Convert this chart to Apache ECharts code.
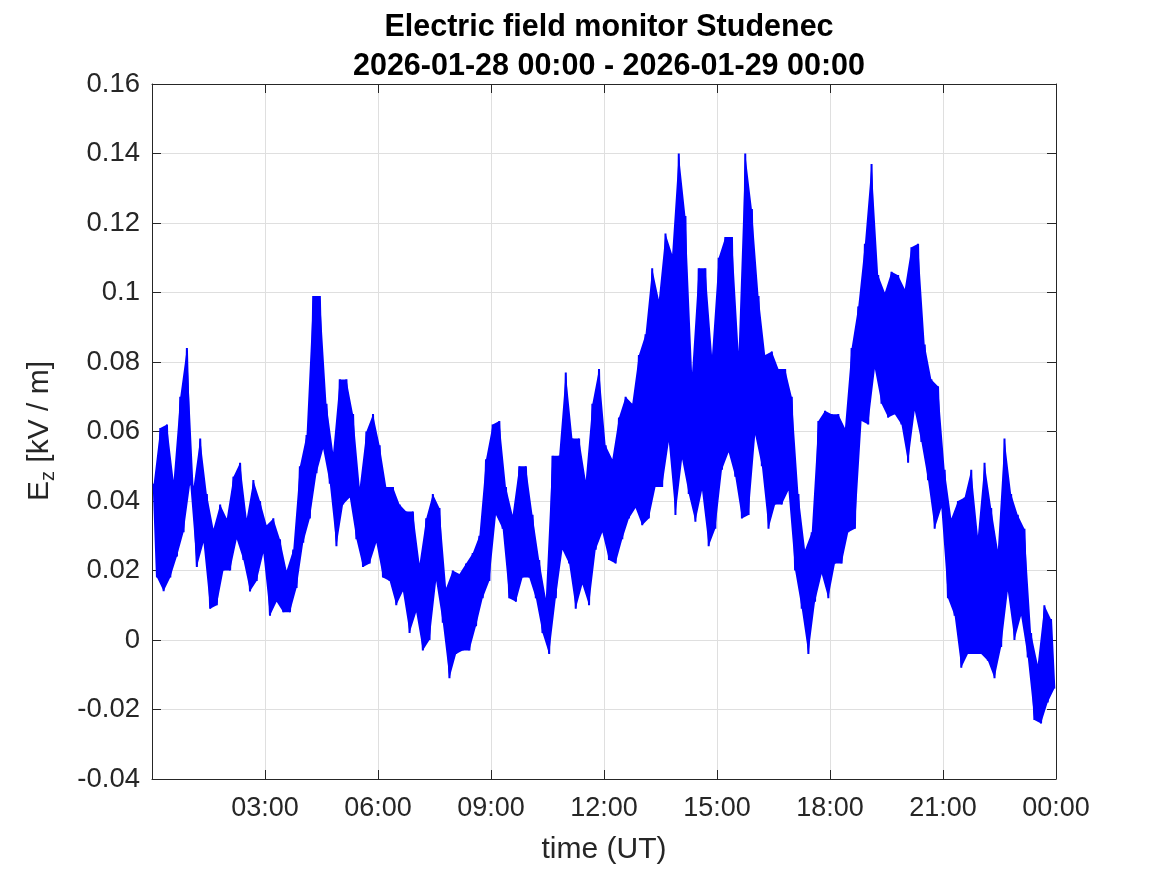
<!DOCTYPE html>
<html>
<head>
<meta charset="utf-8">
<script src="https://cdn.jsdelivr.net/npm/echarts@6/dist/echarts.min.js"></script>
<style>
  html, body { margin: 0; padding: 0; background: #fff; }
  #chart { width: 1167px; height: 875px; }
</style>
</head>
<body>
<div id="chart"></div>
<script>
// upper / lower envelope of Ez [kV/m] in equal time windows over the day
const hiVals = [
  0.045, 0.061, 0.062, 0.046, 0.070, 0.084, 0.044, 0.058, 0.042, 0.032, 0.039, 0.035, 0.047, 0.051, 0.035, 0.046, 0.040, 0.033, 0.035, 0.029, 0.020, 0.026, 0.050,
  0.059, 0.099, 0.099, 0.068, 0.054, 0.075, 0.075, 0.065, 0.044, 0.060, 0.065, 0.056, 0.044, 0.044, 0.039, 0.037, 0.037, 0.022, 0.035, 0.042, 0.038, 0.015,
  0.020, 0.019, 0.022, 0.025, 0.030, 0.052, 0.062, 0.063, 0.044, 0.036, 0.050, 0.050, 0.036, 0.023, 0.012, 0.053, 0.053, 0.077, 0.058, 0.058, 0.046, 0.068, 0.078,
  0.056, 0.052, 0.064, 0.070, 0.068, 0.082, 0.088, 0.107, 0.098, 0.117, 0.111, 0.140, 0.122, 0.077, 0.107, 0.107, 0.082, 0.110, 0.116, 0.116, 0.083, 0.140,
  0.124, 0.099, 0.082, 0.083, 0.078, 0.078, 0.070, 0.042, 0.026, 0.031, 0.063, 0.066, 0.065, 0.065, 0.061, 0.084, 0.096, 0.114, 0.137, 0.105, 0.100, 0.106, 0.105,
  0.101, 0.113, 0.114, 0.085, 0.075, 0.073, 0.049, 0.035, 0.040, 0.041, 0.049, 0.030, 0.051, 0.038, 0.026, 0.058, 0.042, 0.036, 0.032, 0.002, -0.007, 0.010, 0.006
];
const loVals = [
  0.018, 0.014, 0.018, 0.024, 0.031, 0.045, 0.021, 0.028, 0.009, 0.010, 0.020, 0.020, 0.029, 0.023, 0.014, 0.017, 0.025, 0.007, 0.011, 0.008, 0.008, 0.015, 0.028,
  0.035, 0.048, 0.055, 0.045, 0.027, 0.039, 0.041, 0.029, 0.021, 0.022, 0.028, 0.018, 0.017, 0.010, 0.014, 0.002, 0.008, -0.003, 0.000, 0.017, 0.005, -0.011,
  -0.004, -0.003, -0.003, 0.004, 0.012, 0.017, 0.036, 0.032, 0.012, 0.011, 0.018, 0.018, 0.012, 0.002, -0.004, 0.012, 0.026, 0.022, 0.009, 0.016, 0.010, 0.026, 0.031,
  0.023, 0.022, 0.029, 0.035, 0.038, 0.033, 0.035, 0.044, 0.044, 0.057, 0.036, 0.052, 0.042, 0.034, 0.043, 0.027, 0.032, 0.049, 0.054, 0.047, 0.035, 0.036,
  0.059, 0.050, 0.032, 0.039, 0.039, 0.043, 0.020, 0.009, -0.004, 0.011, 0.019, 0.012, 0.022, 0.022, 0.031, 0.032, 0.063, 0.062, 0.078, 0.068, 0.064, 0.065, 0.062,
  0.051, 0.066, 0.057, 0.046, 0.032, 0.038, 0.012, 0.007, -0.008, -0.004, -0.004, -0.004, -0.006, -0.011, -0.002, 0.014, 0.000, 0.007, -0.005, -0.023, -0.024, -0.018, -0.014
];
const xTicks = [0, 3, 6, 9, 12, 15, 18, 21, 24]; // hours UT
const yTicks = [-0.04, -0.02, 0, 0.02, 0.04, 0.06, 0.08, 0.1, 0.12, 0.14, 0.16];

const win = 24 / hiVals.length; // hours per window
const upper = hiVals.map((v, k) => [(k + 0.25) * win, v]);
const lower = loVals.map((v, k) => [(k + 0.75) * win, v]);
const zigzag = [];
upper.forEach((p, k) => {
  zigzag.push(p);
  zigzag.push(lower[k]);
});

const axisColor = "#262626";
const blue = "#0000ff";
const font = "'Liberation Sans', Arial, sans-serif";

function xFmt(v) {
  if (v === 0) return "";
  const h = v % 24;
  return (h < 10 ? "0" : "") + h + ":00";
}
function yFmt(v) {
  return String(parseFloat(v.toFixed(2)));
}

// filled envelope between upper and lower points
function renderBand(params, api) {
  const pts = upper.map((p) => api.coord(p)).concat(lower.slice().reverse().map((p) => api.coord(p)));
  return {
    type: "polygon",
    shape: { points: pts },
    style: { fill: blue, stroke: null },
    silent: true,
  };
}

const baseX = {
  type: "value",
  min: xTicks[0],
  max: xTicks[xTicks.length - 1],
  interval: 3,
  axisLine: { onZero: false, lineStyle: { color: axisColor, width: 1 } },
  axisTick: { inside: true, length: 9, lineStyle: { color: axisColor } },
};
const baseY = {
  type: "value",
  min: yTicks[0],
  max: yTicks[yTicks.length - 1],
  interval: 0.02,
  axisLine: { show: true, onZero: false, lineStyle: { color: axisColor, width: 1 } },
  axisTick: { show: true, inside: true, length: 9, lineStyle: { color: axisColor } },
};

const chart = echarts.init(document.getElementById("chart"));
chart.setOption({
  animation: false,
  backgroundColor: "#fff",
  title: {
    text: "Electric field monitor Studenec\n2026-01-28 00:00 - 2026-01-29 00:00",
    left: 604,
    top: 3,
    textAlign: "center",
    textStyle: {
      fontFamily: font,
      fontSize: 30.5,
      fontWeight: "bold",
      lineHeight: 39,
      color: "#000",
    },
  },
  grid: { left: 152, top: 84, width: 904, height: 695, containLabel: false },
  xAxis: [
    Object.assign({}, baseX, {
      position: "bottom",
      axisLabel: { formatter: xFmt, color: axisColor, fontFamily: font, fontSize: 27, margin: 16 },
      splitLine: { show: true, lineStyle: { color: "#dfdfdf", width: 1 } },
    }),
    Object.assign({}, baseX, {
      position: "top",
      axisLabel: { show: false },
      splitLine: { show: false },
    }),
  ],
  yAxis: [
    Object.assign({}, baseY, {
      position: "left",
      axisLabel: { formatter: yFmt, color: axisColor, fontFamily: font, fontSize: 27.5, margin: 12 },
      splitLine: { show: true, lineStyle: { color: "#dfdfdf", width: 1 } },
    }),
    Object.assign({}, baseY, {
      position: "right",
      axisLabel: { show: false },
      splitLine: { show: false },
    }),
  ],
  graphic: [
    {
      type: "text",
      x: 40,
      y: 431,
      rotation: Math.PI / 2,
      style: {
        text: "{a|E}{b|z}{a| [kV / m]}",
        align: "center",
        verticalAlign: "middle",
        fill: axisColor,
        rich: {
          a: { fontFamily: font, fontSize: 30, lineHeight: 36, fill: axisColor },
          b: { fontFamily: font, fontSize: 20, lineHeight: 20, verticalAlign: "bottom", fill: axisColor },
        },
      },
    },
    {
      type: "text",
      x: 604,
      y: 850,
      style: {
        text: "time (UT)",
        align: "center",
        verticalAlign: "middle",
        fontFamily: font,
        fontSize: 30,
        fill: axisColor,
      },
    },
  ],
  series: [
    {
      type: "custom",
      xAxisIndex: 0,
      yAxisIndex: 0,
      data: [[0, 0]],
      renderItem: renderBand,
      clip: true,
      z: 2,
    },
    {
      type: "line",
      xAxisIndex: 0,
      yAxisIndex: 0,
      data: zigzag,
      showSymbol: false,
      symbol: "none",
      sampling: null,
      lineStyle: { color: blue, width: 2 },
      clip: true,
      z: 3,
    },
  ],
});
</script>
</body>
</html>
